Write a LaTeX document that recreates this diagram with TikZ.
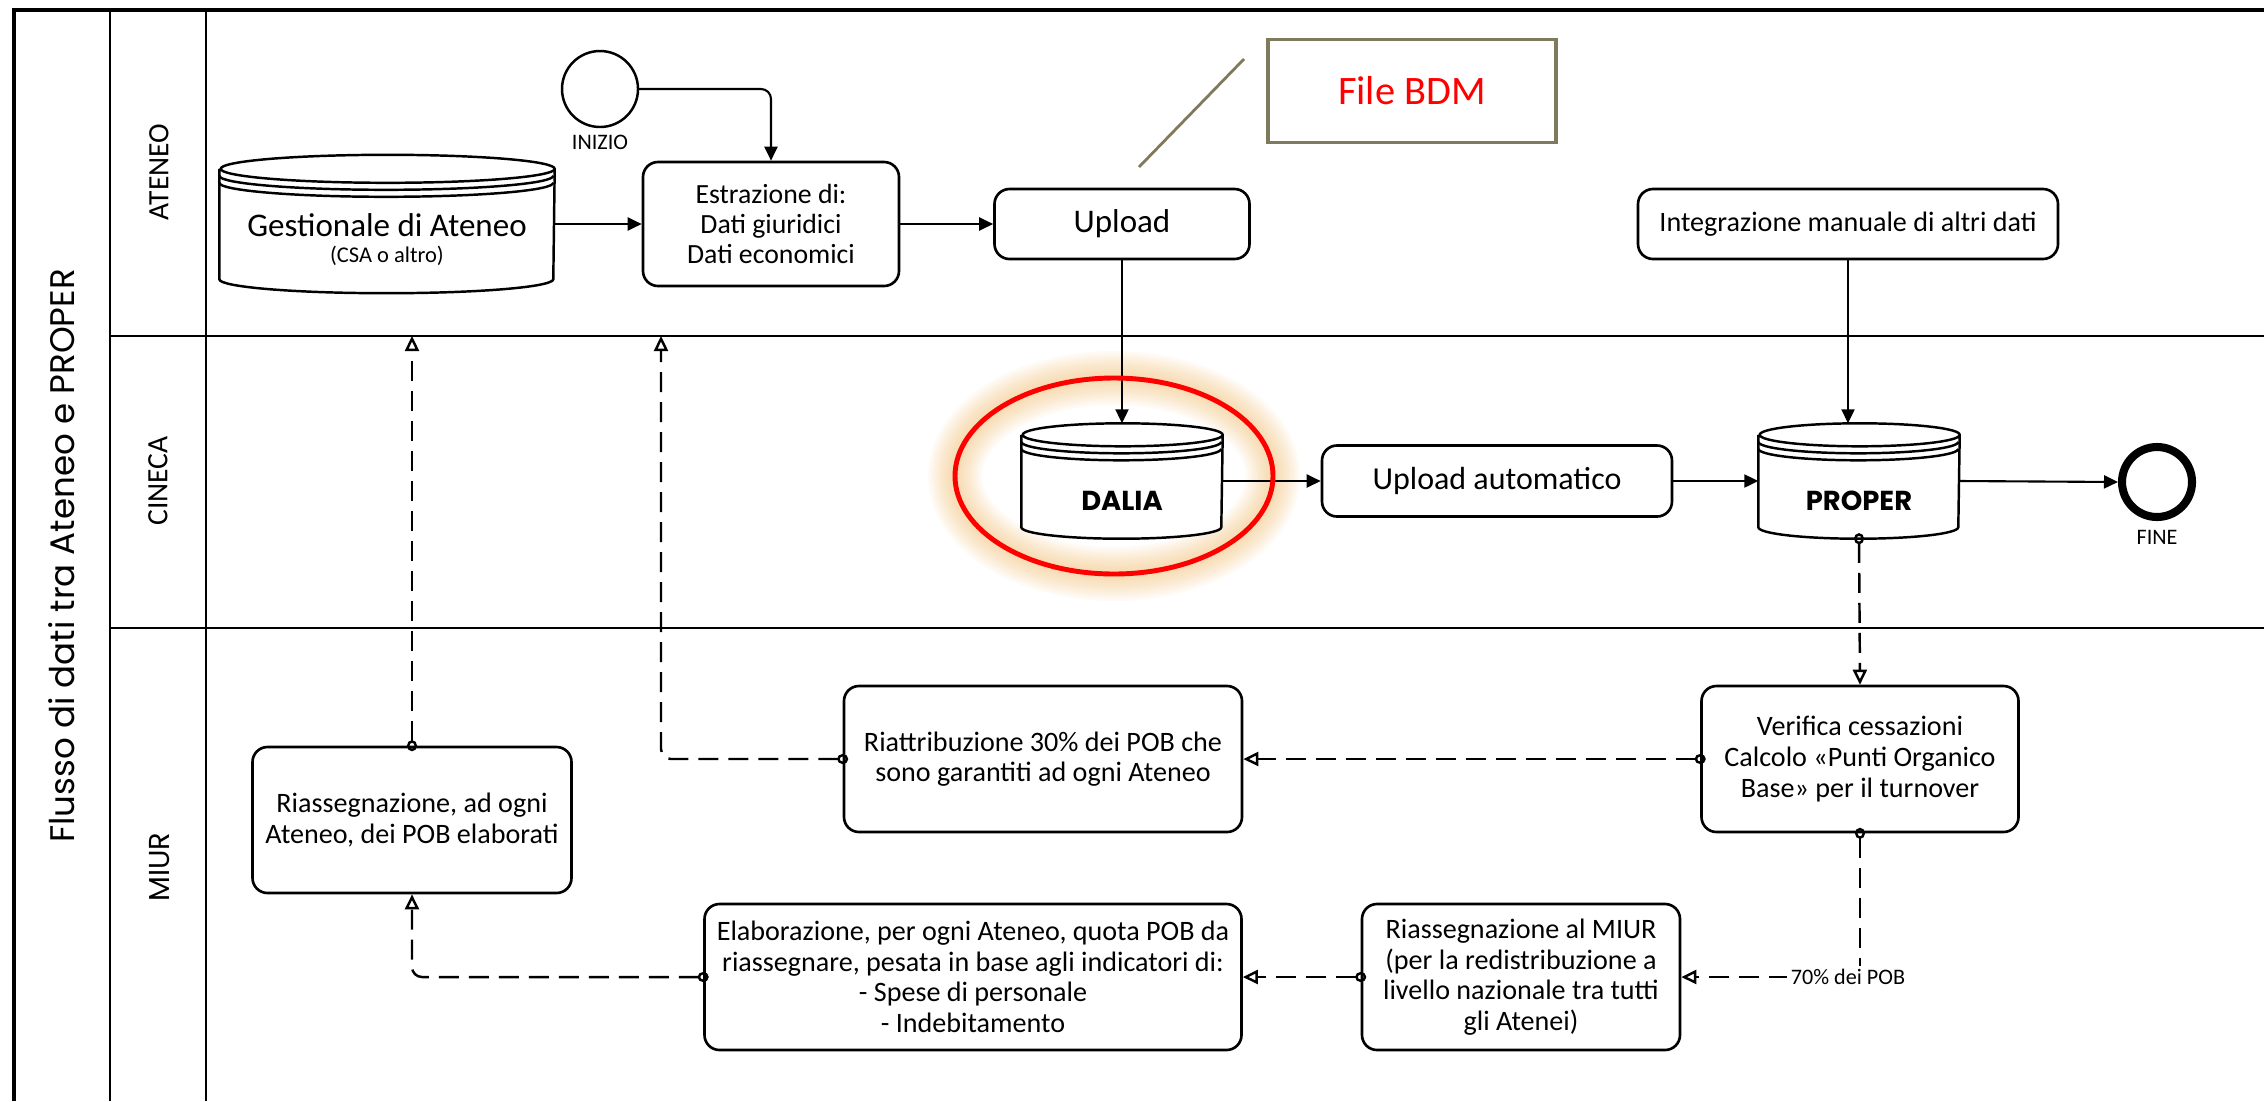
\documentclass[tikz,border=0pt]{standalone}
\usepackage{fontspec}
\setmainfont{Carlito}
\newfontfamily\geofont{Poppins}
\usepackage{tikz}
\usetikzlibrary{arrows.meta, positioning, calc}
\definecolor{bordobdm}{RGB}{128, 122, 92}
\definecolor{rossobdm}{RGB}{255, 0, 0}
\definecolor{alone}{RGB}{240, 185, 105}

\tikzset{
  attivita/.style={draw, line width=0.75pt, rounded corners=1.5mm, fill=white,
                   align=center, inner sep=1pt, font=\fontsize{8}{8.7}\selectfont},
  flusso/.style={line width=0.6pt, -{Triangle[length=1.4mm, width=1.3mm]}},
  messaggio/.style={line width=0.7pt, dash pattern=on 2mm off 1mm,
                    {Circle[open, length=1.1mm, width=1mm]}-{Triangle[open, length=1.5mm, width=1.4mm]},
                    shorten <=-0.55mm},
  corsia/.style={line width=0.8pt},
  evento/.style={circle, draw, inner sep=0pt},
  didascalia/.style={font=\fontsize{6.3}{7}\selectfont, inner sep=1pt}
}

% archivio dati: nome, centro, larghezza, altezza, raggio del coperchio (mm)
\newcommand{\archivio}[5]{%
  \node[minimum width=#3mm, minimum height=#4mm, inner sep=0pt] (#1) at (#2) {};
  \draw[line width=0.7pt, fill=white] ($(#1.north west)+(0,-#5mm)$) -- ($(#1.south west)+(0,#5mm)$)
    arc[start angle=180, end angle=360, x radius=#3*0.5mm, y radius=#5mm]
    -- ($(#1.north east)+(0,-#5mm)$)
    arc[start angle=0, end angle=360, x radius=#3*0.5mm, y radius=#5mm];
  \foreach \k in {1,2}
    \draw[line width=0.7pt] ($(#1.north west)+(0,-#5mm-\k*0.7mm)$)
      arc[start angle=180, end angle=360, x radius=#3*0.5mm, y radius=#5mm];
}

\begin{document}
\begin{tikzpicture}[x=0.1mm, y=-0.1mm]
\useasboundingbox (0,0) rectangle (2264,1101);

% cornice e corsie
\draw[line width=1.2pt] (14,1101) -- (14,10) -- (2264,10);
\draw[corsia] (110,10) -- (110,1101) (206,10) -- (206,1101);
\draw[corsia] (110,336) coordinate (bordo1) -- (2264,336);
\draw[corsia] (110,628) -- (2264,628);

\node[rotate=90, font=\geofont\fontsize{9.7}{11}\selectfont] (titolo) at (62,556) {Flusso di dati tra Ateneo e PROPER};
\node[rotate=90, font=\fontsize{8.4}{10}\selectfont] (corsia-ateneo) at (159,172) {ATENEO};
\node[rotate=90, font=\fontsize{8.4}{10}\selectfont] (corsia-cineca) at (158,481) {CINECA};
\node[rotate=90, font=\geofont\fontsize{8.2}{10}\selectfont] (corsia-miur) at (160,867) {MIUR};

% ATENEO
\archivio{gest}{387,224}{33.4}{13.7}{1.4}
\node[font=\fontsize{9.4}{11}\selectfont] (gest-testo) at (387,225) {Gestionale di Ateneo};
\node[font=\fontsize{6.4}{7}\selectfont] (gest-nota) at (387,256) {(CSA o altro)};

\node[evento, minimum size=7.6mm, line width=0.7pt] (inizio) at (600,89) {};
\node[didascalia] (inizio-testo) at (600,142) {INIZIO};

\node[attivita, minimum width=25.6mm, minimum height=12.4mm, font=\fontsize{7.9}{8.6}\selectfont] (estr) at (771,224)
  {Estrazione di:\\Dati giuridici\\Dati economici};
\node[attivita, minimum width=25.5mm, minimum height=7mm, font=\fontsize{9.4}{11}\selectfont] (upload) at (1122,224) {Upload};

\node[draw=bordobdm, line width=1pt, minimum width=28.8mm, minimum height=10.3mm, text=rossobdm,
      font=\fontsize{11.5}{13}\selectfont] (bdm) at (1412,91) {File BDM};
\coordinate (nota-a) at (1139,167);
\coordinate (nota-b) at (1244,59);
\draw[bordobdm, line width=0.8pt] (nota-a) -- (nota-b);

\node[attivita, minimum width=42mm, minimum height=7mm, font=\fontsize{8}{9}\selectfont] (integr) at (1848,224)
  {Integrazione manuale di altri dati};

% CINECA
\foreach \w in {1,...,12}
  \draw[alone, line width=\w*0.45mm, opacity=0.06] (1114,476) ellipse[x radius=15.9mm, y radius=9.8mm];

\archivio{dalia}{1122,481}{20}{11.4}{1.15}
\node[font=\geofont\bfseries\fontsize{7.8}{9}\selectfont] (dalia-testo) at (1122,501) {DALIA};
\node[attivita, minimum width=35mm, minimum height=7.1mm, font=\fontsize{9.1}{11}\selectfont] (upauto) at (1497,481)
  {Upload automatico};
\archivio{proper}{1859,481}{20}{11.4}{1.15}
\node[font=\geofont\bfseries\fontsize{7.8}{9}\selectfont] (proper-testo) at (1859,501) {PROPER};
\node[evento, minimum size=7mm, line width=2.3pt] (fine) at (2157,482) {};
\node[didascalia] (fine-testo) at (2157,537) {FINE};

% MIUR
\node[attivita, minimum width=31.7mm, minimum height=14.6mm] (verifica) at (1860,759)
  {Verifica cessazioni\\Calcolo «Punti Organico\\Base» per il turnover};
\node[attivita, minimum width=39.8mm, minimum height=14.6mm] (riattr) at (1043,759)
  {Riattribuzione 30\% dei POB che\\sono garantiti ad ogni Ateneo};
\node[attivita, minimum width=31.9mm, minimum height=14.6mm] (riass) at (412,820)
  {Riassegnazione, ad ogni\\Ateneo, dei POB elaborati};
\node[attivita, minimum width=53.7mm, minimum height=14.6mm] (elab) at (973,977)
  {Elaborazione, per ogni Ateneo, quota POB da\\riassegnare, pesata in base agli indicatori di:\\- Spese di personale\\- Indebitamento};
\node[attivita, minimum width=31.8mm, minimum height=14.6mm] (riamiur) at (1521,977)
  {Riassegnazione al MIUR\\(per la redistribuzione a\\livello nazionale tra tutti\\gli Atenei)};
\coordinate (rientro) at (661,336);

% flussi
\draw[flusso, rounded corners=1mm] (inizio.east) -| (estr.north);
\draw[flusso] (gest.east) -- (estr.west);
\draw[flusso] (estr.east) -- (upload.west);
\draw[flusso] (upload.south) -- (dalia.north);
\draw[flusso] (integr.south) -- (integr.south |- proper.north);
\draw[flusso] (dalia.east) -- (upauto.west);
\draw[flusso] (upauto.east) -- (proper.west);
\draw[flusso] (proper.east) -- (fine.west);

\draw[messaggio] (proper.south) -- (verifica.north);
\draw[messaggio] (verifica.west) -- (riattr.east);
\draw[messaggio, rounded corners=1mm] (riattr.west) -| (rientro);
\draw[messaggio] (riass.north) -- (riass.north |- bordo1);
\draw[messaggio, rounded corners=1mm] (elab.west) -| (riass.south);
\draw[messaggio] (riamiur.west) -- (elab.east);
\draw[messaggio] (verifica.south) |- node[didascalia, fill=white, xshift=-1.2mm] {70\% dei POB} (riamiur.east);

\draw[rossobdm, line width=1.4pt] (1114,476) ellipse[x radius=15.9mm, y radius=9.8mm];
\end{tikzpicture}
\end{document}
